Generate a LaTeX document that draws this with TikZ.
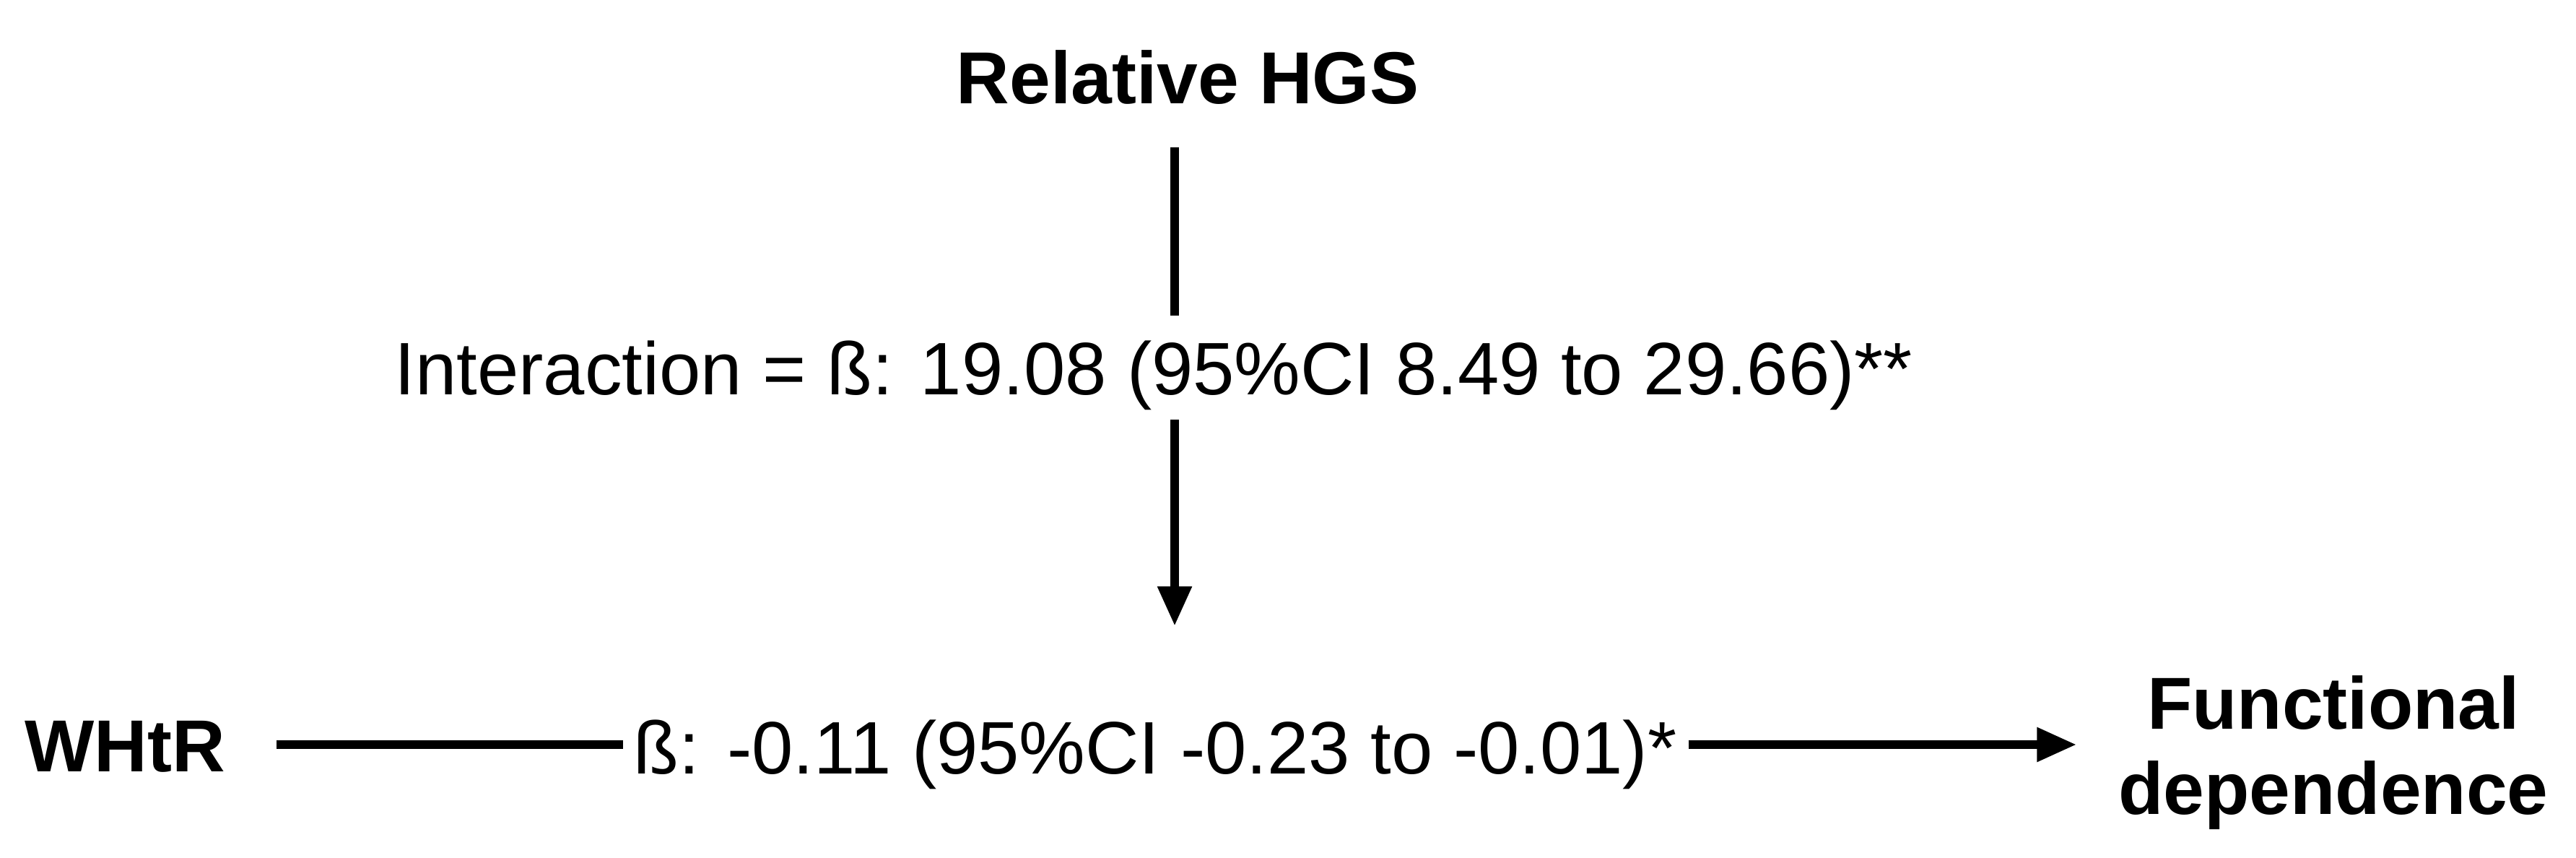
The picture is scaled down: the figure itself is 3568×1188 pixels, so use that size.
\documentclass[tikz,border=0pt]{standalone}
\usepackage{fontspec}
\setmainfont{Liberation Sans}
\usetikzlibrary{arrows.meta}
\begin{document}
\begin{tikzpicture}[x=1pt,y=-1pt,
  lbl/.style={font=\fontsize{103}{120}\selectfont, inner sep=0pt, anchor=base, text height=74pt, text depth=21pt},
  var/.style={font=\fontsize{102}{118}\selectfont\bfseries, inner sep=0pt, anchor=base},
  var2/.style={font=\fontsize{102}{118}\selectfont\bfseries, inner sep=0pt, align=center},
  conn/.style={line width=12pt, line cap=butt},
  arr/.style={conn, -{Triangle[length=55pt,width=45pt]}}]
\useasboundingbox (0,0) rectangle (3568,1188);
\fill[white] (0,0) rectangle (3568,1188);
% nodes
\node[var] (hgs) at (1645,143) {Relative HGS};
\node[lbl] (inter) at (1598,546) {Interaction = ß: 19.08 (95\%CI 8.49 to 29.66)**};
\node[var] (whtr) at (173,1068) {WHtR};
\node[lbl] (beta) at (1600,1071) {ß: -0.11 (95\%CI -0.23 to -0.01)*};
\node[var2] (fd) at (3232,1042) {Functional\\dependence};
% guide coordinates
\coordinate (vx) at (1627,0);
\coordinate (hy) at (0,1031);
% connectors
\draw[conn, shorten <=60pt, shorten >=35pt] (hgs.south -| vx) -- (inter.north -| vx);
\draw[arr, shorten <=14pt, shorten >=130pt] (inter.south -| vx) -- (beta.north -| vx);
\draw[conn, shorten <=71pt, shorten >=15pt] (whtr.east |- hy) -- (beta.west |- hy);
\draw[arr, shorten <=16pt, shorten >=58pt] (beta.east |- hy) -- (fd.west |- hy);
\end{tikzpicture}
\end{document}
